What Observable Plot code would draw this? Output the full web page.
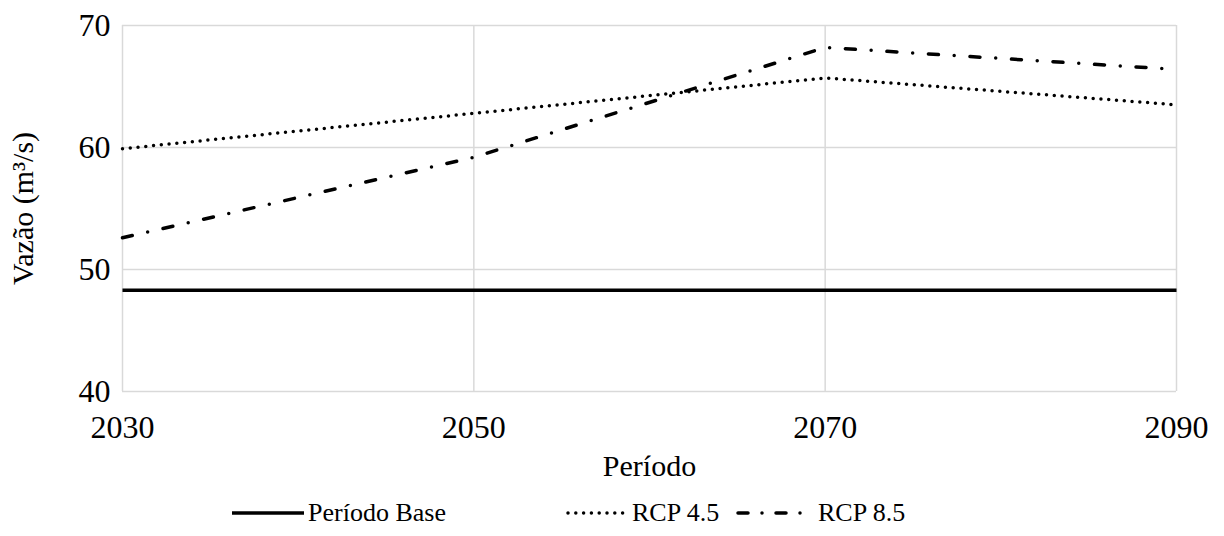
<!DOCTYPE html>
<html>
<head>
<meta charset="utf-8">
<script src="https://cdn.jsdelivr.net/npm/d3@7"></script>
<script src="https://cdn.jsdelivr.net/npm/@observablehq/plot@0.6"></script>
<style>
  html, body { margin: 0; padding: 0; background: #fff; }
  #chart { width: 1224px; }
  #legend { position: relative; width: 1224px; height: 46px; font-size: 26px; color: #000; }
  #chart, #legend, svg text { font-family: "Liberation Serif", "Times New Roman", Tinos, "Nimbus Roman", FreeSerif, "Noto Serif", "DejaVu Serif", Times, serif; }
  .item { position: absolute; top: 0; height: 46px; display: flex; align-items: center; }
  .item svg { display: block; }
  .item span { margin-left: 4px; white-space: nowrap; }
</style>
</head>
<body>
<div id="chart"></div>
<script>
const years = [2030, 2050, 2070, 2090];
const baseValues = [48.3, 48.3, 48.3, 48.3];
const rcp45Values = [59.9, 62.8, 65.7, 63.5];
const rcp85Values = [52.6, 59.2, 68.2, 66.4];
const yTicks = [40, 50, 60, 70];
const seriesNames = ["Período Base", "RCP 4.5", "RCP 8.5"];
const xTitle = "Período";
const yTitle = "Vazão (m³/s)";

const dashes = { "Período Base": null, "RCP 4.5": "0 7.8", "RCP 8.5": "10 15.8 0 15.8" };
const widths = { "Período Base": 3.5, "RCP 4.5": 3.5, "RCP 8.5": 3.5 };

const seriesValues = [baseValues, rcp45Values, rcp85Values];
const rows = seriesNames.map((name, i) => years.map((yr, j) => ({ series: name, year: yr, value: seriesValues[i][j] })));

const lineMarks = rows.map((data, i) => Plot.line(data, {
  x: "year", y: "value", stroke: "#000", strokeWidth: widths[seriesNames[i]],
  strokeDasharray: dashes[seriesNames[i]], strokeLinecap: seriesNames[i] === "Período Base" ? "butt" : "round"
}));

const chart = Plot.plot({
  width: 1224, height: 490,
  marginLeft: 122, marginRight: 48, marginTop: 25, marginBottom: 99,
  style: { fontFamily: "Liberation Serif, Times New Roman, serif", fontSize: "32px", color: "#000", background: "#fff", overflow: "visible" },
  x: { domain: [2030, 2090], label: null },
  y: { domain: [40, 70], label: null },
  marks: [
    Plot.gridX(years, { stroke: "#d9d9d9", strokeOpacity: 1, strokeWidth: 1.5 }),
    Plot.gridY(yTicks, { stroke: "#d9d9d9", strokeOpacity: 1, strokeWidth: 1.5 }),
    Plot.axisX({ ticks: years, tickSize: 0, tickPadding: 24, tickFormat: d => String(d), label: null, fontSize: 32 }),
    Plot.axisY({ ticks: yTicks, tickSize: 0, tickPadding: 12, label: null, fontSize: 32 }),
    ...lineMarks,
    Plot.text([xTitle], { frameAnchor: "bottom", textAnchor: "middle", dy: 84, fill: "#000", fontSize: 30 }),
    Plot.text([yTitle], { frameAnchor: "left", textAnchor: "middle", rotate: -90, dx: -99, fill: "#000", fontSize: 30 })
  ]
});
document.getElementById("chart").appendChild(chart);

// Legend
const legend = document.createElement("div");
legend.id = "legend";
const lefts = [232, 566, 736];
seriesNames.forEach((name, i) => {
  const item = document.createElement("div");
  item.className = "item";
  item.style.left = lefts[i] + "px";
  const d = dashes[name];
  const sw = name === "RCP 4.5" ? 62 : 72;
  item.innerHTML = `<svg width="${sw}" height="10"><line x1="${d ? 2 : 0}" y1="5" x2="${d ? sw - 2 : sw}" y2="5" stroke="#000" stroke-width="3.5" ${d ? `stroke-dasharray="${name === "RCP 8.5" ? "10 14 0 14" : d}" stroke-linecap="round"` : ""}/></svg><span${name === "RCP 8.5" ? ' style="margin-left:10px"' : ""}>${name}</span>`;
  legend.appendChild(item);
});
document.getElementById("chart").appendChild(legend);
</script>
</body>
</html>
